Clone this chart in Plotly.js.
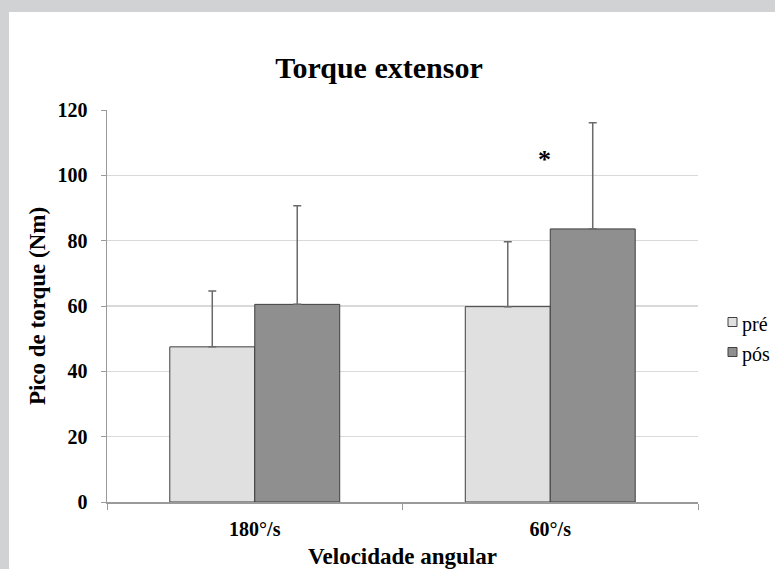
<!DOCTYPE html>
<html>
<head>
<meta charset="utf-8">
<script src="https://cdn.plot.ly/plotly-3.0.1.min.js"></script>
<style>
html,body{margin:0;padding:0;background:#d1d2d4;width:775px;height:569px;overflow:hidden;}
#chart{position:absolute;left:9px;top:12px;width:766px;height:557px;background:#fff;}
</style>
</head>
<body>
<div id="chart"></div>
<script>
const categories = ["180°/s", "60°/s"];
const preValues = [47.5, 59.8];
const posValues = [60.5, 83.6];
const preErrors = [17.1, 19.9];
const posErrors = [30.2, 32.5];
const seriesNames = ["pré", "pós"];
const seriesColors = ["#e0e0e0", "#8f8f8f"];
const yTicks = [0, 20, 40, 60, 80, 100, 120];
const markText = "*";
const markValue = 105.7;

const serif = "'Liberation Serif', 'Times New Roman', Times, serif";

const traces = [preValues, posValues].map((vals, i) => ({
  type: "bar", name: seriesNames[i], x: categories, y: vals,
  marker: {color: seriesColors[i], line: {color: "#3f3f3f", width: 1}},
  error_y: {type: "data", array: [preErrors, posErrors][i], symmetric: false, arrayminus: [0, 0],
            color: "#6a6a6a", thickness: 1.5, width: 4}
}));

// plot area geometry (pixels inside the 766x557 chart div)
const M = {l: 98, r: 77, t: 98, b: 67};
const W = 766, H = 557;
const pw = W - M.l - M.r, ph = H - M.t - M.b;
const px = v => (v - M.l) / pw;           // div x pixel -> paper fraction
const py = v => (H - M.b - v) / ph;       // div y pixel -> paper fraction

// custom legend (small square + tight text, as in the original)
const legendShapes = [], legendAnn = [];
const legRowsY = [310, 340];
seriesNames.forEach((nm, i) => {
  const cy = legRowsY[i];
  legendShapes.push({type: "rect", xref: "paper", yref: "paper",
    x0: px(719), x1: px(728), y0: py(cy + 4.5), y1: py(cy - 4.5),
    fillcolor: seriesColors[i], line: {color: "#3f3f3f", width: 1}});
  legendAnn.push({xref: "paper", yref: "paper", x: px(731), y: py(cy + 2), xanchor: "left", yanchor: "middle",
    text: nm, showarrow: false, font: {family: serif, size: 20, color: "#000"}});
});

const layout = {
  width: W, height: H,
  margin: M,
  paper_bgcolor: "#fff", plot_bgcolor: "#fff",
  barmode: "group", bargap: 0.425, bargroupgap: 0,
  showlegend: false,
  font: {family: serif, color: "#000"},
  title: {text: "<b>Torque extensor</b>", font: {family: serif, size: 30, color: "#000"},
          x: 0.483, xref: "container", xanchor: "center", y: 0.9, yref: "container", yanchor: "middle"},
  xaxis: {
    type: "category",
    tickvals: categories, ticktext: categories.map(c => "<b>" + c + "</b>"),
    showline: true, linecolor: "#9a9a9a", linewidth: 1.5,
    ticks: "outside", tickson: "boundaries", ticklen: 6, tickcolor: "#9a9a9a",
    ticklabelstandoff: 8,
    tickfont: {family: serif, size: 20, color: "#000"},
    title: {text: "<b>Velocidade angular</b>", font: {family: serif, size: 23, color: "#000"}, standoff: 10}
  },
  yaxis: {
    range: [0, 120], tickvals: yTicks, ticktext: yTicks.map(v => "<b>" + v + "</b>"),
    showgrid: true, gridcolor: "#d9d9d9", gridwidth: 1.5,
    showline: true, linecolor: "#9a9a9a", linewidth: 1.5,
    ticks: "outside", ticklen: 5, tickcolor: "#9a9a9a",
    ticklabelstandoff: 9,
    zeroline: false,
    tickfont: {family: serif, size: 20, color: "#000"},
    title: {text: "<b>Pico de torque (Nm)</b>", font: {family: serif, size: 23, color: "#000"}, standoff: 5}
  },
  shapes: legendShapes,
  annotations: [
    {x: categories[1], y: markValue, xref: "x", yref: "y", text: "<b>" + markText + "</b>", showarrow: false,
     xshift: -6, yshift: -3, font: {family: serif, size: 26, color: "#000"}}
  ].concat(legendAnn)
};

Plotly.newPlot("chart", traces, layout, {displayModeBar: false, staticPlot: true});
</script>
</body>
</html>
